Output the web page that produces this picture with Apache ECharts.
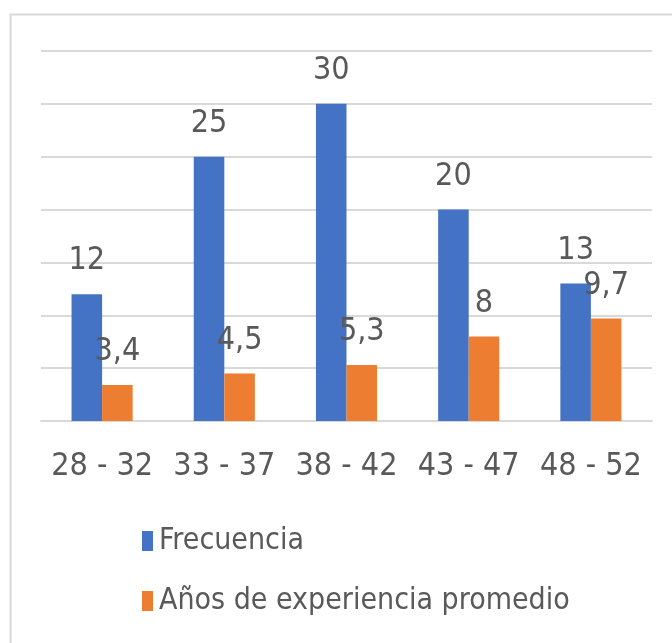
<!DOCTYPE html>
<html>
<head>
<meta charset="utf-8">
<script src="https://cdn.jsdelivr.net/npm/echarts@6/dist/echarts.min.js"></script>
<style>
html,body{margin:0;padding:0;background:#fff;}
#chart{width:672px;height:643px;}
</style>
</head>
<body>
<div id="chart"></div>
<script>
const categories = ['28 - 32', '33 - 37', '38 - 42', '43 - 47', '48 - 52'];
const frecuencia = [12, 25, 30, 20, 13];
const experiencia = [3.4, 4.5, 5.3, 8, 9.7];
const seriesNames = ['Frecuencia', 'Años de experiencia promedio'];

const FONT = '"Liberation Sans Narrow", "DejaVu Sans Condensed", "Roboto Condensed", "Liberation Sans", sans-serif';
const TXT = '#595959';
const fmt = p => String(p.value).replace('.', ',');

const chart = echarts.init(document.getElementById('chart'));
chart.setOption({
  animation: false,
  backgroundColor: '#ffffff',
  graphic: [{
    type: 'rect', left: 8, top: 12,
    shape: { width: 680, height: 650 },
    style: { fill: 'none', stroke: '#d9d9d9', lineWidth: 2 },
    z: -1
  }],
  grid: { left: 41, right: 20, top: 51, bottom: 222 },
  legend: {
    orient: 'vertical',
    left: 137,
    top: 521,
    itemWidth: 11,
    itemHeight: 20,
    itemGap: 30,
    icon: 'rect',
    textStyle: { fontFamily: FONT, fontSize: 30, color: TXT, padding: [0, 0, 0, 1] },
    data: seriesNames
  },
  xAxis: {
    type: 'category',
    data: categories,
    axisLine: { lineStyle: { color: '#d9d9d9', width: 2 } },
    axisTick: { show: false },
    axisLabel: { interval: 0, fontFamily: FONT, fontSize: 32, color: TXT, margin: 30 }
  },
  yAxis: {
    type: 'value',
    min: 0, max: 35, interval: 5,
    axisLabel: { show: false },
    axisLine: { show: false },
    axisTick: { show: false },
    splitLine: { lineStyle: { color: '#d9d9d9', width: 2 } }
  },
  series: [
    {
      name: seriesNames[0], type: 'bar', data: frecuencia,
      barWidth: '25%', barGap: '0%',
      itemStyle: { color: '#4472C4' },
      label: { show: true, position: 'top', distance: 17, formatter: fmt,
               fontFamily: FONT, fontSize: 32, color: TXT }
    },
    {
      name: seriesNames[1], type: 'bar', data: experiencia,
      barWidth: '25%', barGap: '0%',
      itemStyle: { color: '#ED7D31' },
      label: { show: true, position: 'top', distance: 17, formatter: fmt,
               fontFamily: FONT, fontSize: 32, color: TXT }
    }
  ]
});
</script>
</body>
</html>
